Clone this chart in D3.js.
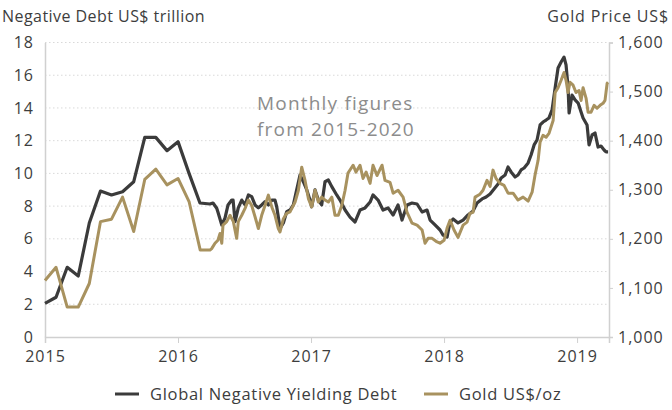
<!DOCTYPE html>
<html><head><meta charset="utf-8">
<script src="https://cdn.jsdelivr.net/npm/d3@7"></script>
<style>
html,body{margin:0;padding:0;background:#fff;}
svg{display:block;font-family:"Open Sans",Lato,sans-serif;}
</style></head><body>
<svg id="chart" width="672" height="410"></svg>
<script>
// ---- data (decimal year, value) ----
const debtYears = [2015.0,2015.083,2015.167,2015.25,2015.333,2015.417,2015.5,2015.583,2015.667,2015.75,2015.833,2015.917,2016.0,2016.083,2016.165,2016.24,
2016.263,2016.291,2016.30,2016.329,2016.353,2016.376,2016.404,2016.414,2016.429,2016.453,2016.479,2016.504,2016.529,2016.554,2016.579,2016.604,2016.629,2016.654,2016.679,2016.705,2016.729,2016.742,2016.767,2016.792,2016.817,2016.842,2016.867,2016.892,2016.917,2016.942,2016.968,2016.992,
2017.005,2017.03,2017.055,2017.08,2017.105,2017.13,2017.156,2017.193,2017.218,2017.256,2017.293,2017.331,2017.368,2017.406,2017.444,2017.466,2017.504,2017.541,2017.579,2017.617,2017.654,2017.684,2017.722,2017.759,2017.797,2017.835,2017.872,2017.895,2017.932,2017.97,2017.992,
2018.023,2018.045,2018.068,2018.105,2018.143,2018.18,2018.218,2018.248,2018.286,2018.316,2018.346,2018.376,2018.406,2018.429,2018.459,2018.481,2018.504,2018.534,2018.556,2018.579,2018.602,2018.632,2018.654,2018.677,2018.699,2018.722,2018.744,2018.767,2018.789,2018.812,2018.835,2018.857,2018.88,2018.902,2018.917,2018.932,2018.94,2018.962,2018.985,
2019.008,2019.03,2019.045,2019.075,2019.09,2019.113,2019.135,2019.158,2019.18,2019.203,2019.218,2019.233];
const debtValues = [2.06,2.43,4.26,3.73,6.97,8.92,8.68,8.88,9.49,12.2,12.2,11.39,11.94,10.0,8.19,8.13,
8.19,7.87,7.64,6.85,7.27,8.07,8.37,8.37,7.05,7.89,8.37,8.07,8.68,8.58,8.07,7.89,8.07,8.27,8.07,8.37,8.37,7.96,6.64,6.97,7.66,7.76,8.07,8.99,9.9,9.49,8.99,8.37,
7.96,8.99,8.37,8.07,9.49,9.6,9.19,8.68,8.37,7.76,7.33,7.03,7.76,7.89,8.25,8.68,8.37,7.76,7.89,7.46,8.07,7.15,8.07,8.19,8.13,7.64,7.76,7.15,6.85,6.54,6.23,
6.11,7.03,7.21,6.97,7.15,7.46,7.70,8.19,8.44,8.56,8.74,9.05,9.35,9.72,9.9,10.39,10.09,9.78,9.9,10.21,10.33,10.64,11.12,11.74,12.04,12.96,13.14,13.26,13.39,13.88,15.22,16.44,16.81,17.11,16.63,15.28,13.69,14.79,14.49,
14.3,13.75,13.39,12.96,11.74,12.35,12.47,11.61,11.67,11.43,11.31,11.31];

const goldYears = [2015.0,2015.083,2015.167,2015.25,2015.333,2015.417,2015.5,2015.583,2015.667,2015.75,2015.833,2015.917,2016.0,2016.083,2016.167,2016.24,
2016.253,2016.278,2016.30,2016.316,2016.329,2016.338,2016.366,2016.391,2016.416,2016.441,2016.453,2016.479,2016.504,2016.529,2016.554,2016.579,2016.604,2016.629,2016.654,2016.679,2016.705,2016.729,2016.754,2016.767,2016.792,2016.817,2016.842,2016.88,2016.905,2016.93,2016.955,2016.98,
2017.005,2017.03,2017.055,2017.08,2017.105,2017.13,2017.156,2017.18,2017.205,2017.231,2017.256,2017.278,2017.316,2017.338,2017.368,2017.391,2017.414,2017.444,2017.466,2017.496,2017.534,2017.556,2017.594,2017.617,2017.654,2017.692,2017.722,2017.759,2017.797,2017.835,2017.857,2017.88,2017.91,2017.94,2017.97,
2018.0,2018.023,2018.045,2018.075,2018.105,2018.143,2018.173,2018.195,2018.218,2018.233,2018.27,2018.293,2018.323,2018.346,2018.368,2018.391,2018.421,2018.451,2018.481,2018.519,2018.556,2018.594,2018.632,2018.662,2018.684,2018.707,2018.722,2018.744,2018.767,2018.789,2018.82,2018.835,2018.857,2018.88,2018.902,2018.917,2018.932,2018.947,2018.97,2018.992,
2019.015,2019.03,2019.045,2019.068,2019.083,2019.105,2019.128,2019.15,2019.173,2019.195,2019.21,2019.226,2019.233];
const goldValues = [1115,1142,1061,1061,1109,1235,1240,1285,1215,1321,1342,1310,1323,1276,1177,1177,
1180,1191,1197,1211,1191,1228,1235,1248,1235,1201,1235,1248,1262,1279,1268,1245,1221,1248,1268,1289,1265,1248,1221,1214,1241,1252,1255,1275,1299,1346,1319,1282,
1265,1299,1275,1285,1279,1275,1285,1248,1248,1268,1299,1334,1350,1336,1350,1323,1336,1313,1350,1329,1350,1319,1315,1293,1299,1285,1254,1232,1228,1218,1191,1201,1201,1195,1191,
1197,1222,1238,1218,1203,1228,1234,1252,1254,1285,1291,1299,1319,1307,1340,1323,1313,1309,1293,1293,1279,1285,1277,1295,1330,1360,1397,1411,1407,1415,1441,1498,1508,1523,1539,1523,1498,1519,1513,1498,
1502,1482,1508,1486,1458,1458,1472,1466,1472,1476,1482,1517,1519];

const xTicks = [2015,2016,2017,2018,2019];
const leftTicks = [0,2,4,6,8,10,12,14,16,18];
const rightTicks = [1000,1100,1200,1300,1400,1500,1600];
const leftTitle = "Negative Debt US$ trillion";
const rightTitle = "Gold Price US$";
const noteLines = ["Monthly figures","from 2015-2020"];
const seriesNames = ["Global Negative Yielding Debt","Gold US$/oz"];
const seriesColors = ["#3b3b3b","#a8925f"];

// ---- layout ----
const svg = d3.select("#chart");
const m = {left:45, right:63, top:42.5, bottom:73};
const W = 672, H = 410;
const x = d3.scaleLinear().domain([2015, 2019.24]).range([m.left, W - m.right]);
const yL = d3.scaleLinear().domain([0,18]).range([H - m.bottom, m.top]);
const yR = d3.scaleLinear().domain([1000,1600]).range([H - m.bottom, m.top]);

const textCol = "#3d3d3d";
const axisCol = "#d0d0d0";
const FF = '"Open Sans",Lato,sans-serif';

// gridlines
svg.append("g").selectAll("line").data(leftTicks.slice(1)).join("line")
  .attr("x1", m.left).attr("x2", W - m.right)
  .attr("y1", d => yL(d)).attr("y2", d => yL(d))
  .attr("stroke", "#d9d9d9").attr("stroke-width", 1).attr("stroke-dasharray", "1.5,2.5");

function styleTicks(g) {
  g.selectAll("text").attr("fill", textCol).style("font-size", "16px")
    .style("font-family", FF).style("letter-spacing", "1px");
}

// left axis
const gL = svg.append("g").attr("transform", `translate(${m.left},0)`)
  .call(d3.axisLeft(yL).tickValues(leftTicks).tickSize(0).tickPadding(11).tickFormat(d3.format("d")));
gL.select(".domain").attr("stroke", axisCol).attr("stroke-width", 1.5);
styleTicks(gL);

// right axis
const gR = svg.append("g").attr("transform", `translate(${W - m.right},0)`)
  .call(d3.axisRight(yR).tickValues(rightTicks).tickSize(4).tickPadding(5).tickFormat(d3.format(",")));
gR.select(".domain").attr("stroke", axisCol).attr("stroke-width", 1.5);
gR.selectAll(".tick line").attr("stroke", axisCol);
styleTicks(gR);

// bottom axis
const gB = svg.append("g").attr("transform", `translate(0,${H - m.bottom})`)
  .call(d3.axisBottom(x).tickValues(xTicks).tickSize(6).tickPadding(8).tickFormat(d3.format("d")));
gB.select(".domain").attr("stroke", axisCol).attr("stroke-width", 1.5);
gB.selectAll(".tick line").attr("stroke", axisCol);
styleTicks(gB);

// axis titles
svg.append("text").attr("x", 2).attr("y", 22).attr("fill", textCol)
  .style("font-size", "16px").style("letter-spacing", "0.45px").text(leftTitle);
svg.append("text").attr("x", 669).attr("y", 22).attr("text-anchor", "end").attr("fill", textCol)
  .style("font-size", "16px").style("letter-spacing", "0.85px").text(rightTitle);

// annotation
svg.append("g").selectAll("text").data(noteLines).join("text")
  .attr("x", 257).attr("y", (d,i) => 110 + i*26)
  .attr("fill", "#8c8c8c").style("font-size", "19px").style("letter-spacing", "1.2px").text(d => d);

// lines
const debt = debtYears.map((t,i) => ({t, v: debtValues[i]}));
const gold = goldYears.map((t,i) => ({t, v: goldValues[i]}));
const lineL = d3.line().x(d => x(d.t)).y(d => yL(d.v));
const lineR = d3.line().x(d => x(d.t)).y(d => yR(d.v));
svg.append("path").datum(debt).attr("d", lineL).attr("fill", "none")
  .attr("stroke", seriesColors[0]).attr("stroke-width", 3.2).attr("stroke-linejoin", "round");
svg.append("path").datum(gold).attr("d", lineR).attr("fill", "none")
  .attr("stroke", seriesColors[1]).attr("stroke-width", 3).attr("stroke-linejoin", "round");

// legend
const legX = [115, 424];
const lg = svg.append("g").selectAll("g").data(seriesNames).join("g")
  .attr("transform", (d,i) => `translate(${legX[i]},400)`);
lg.append("line").attr("x1", 0).attr("x2", 24).attr("y1", -6).attr("y2", -6)
  .attr("stroke", (d,i) => seriesColors[i]).attr("stroke-width", 3);
lg.append("text").attr("x", 35).attr("y", 0).attr("fill", textCol)
  .style("font-size", "16.5px").style("letter-spacing", "0.7px").text(d => d);
</script>
</body></html>
